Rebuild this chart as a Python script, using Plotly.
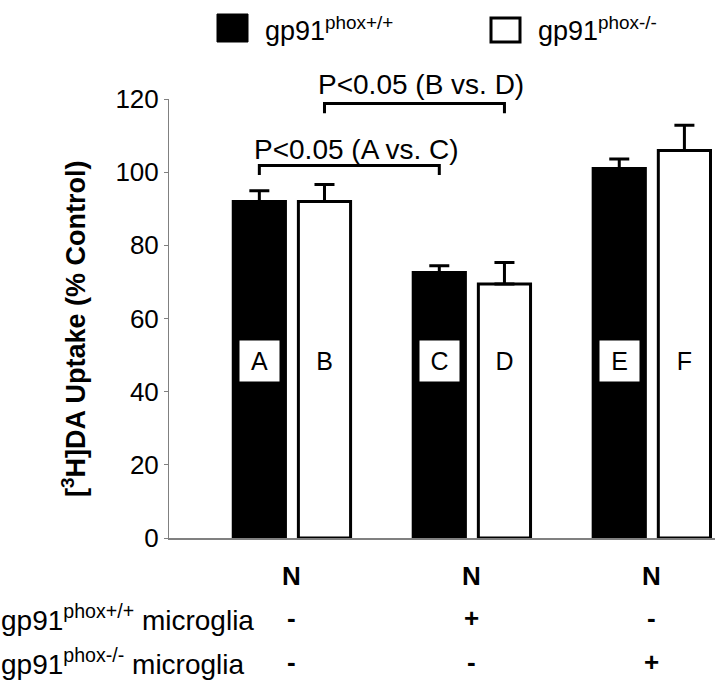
import plotly.graph_objects as go

# ---- data ----
categories = [0, 1, 2]
wt_values = [92, 72.6, 101]          # gp91phox+/+ (black)
wt_errors = [2.9, 1.8, 2.6]
ko_values = [92, 69.4, 105.9]        # gp91phox-/- (white)
ko_errors = [4.6, 5.9, 6.9]
wt_letters = ["A", "C", "E"]
ko_letters = ["B", "D", "F"]
series_names = ["gp91<sup>phox+/+</sup>", "gp91<sup>phox-/-</sup>"]
y_ticks = [0, 20, 40, 60, 80, 100, 120]
row_labels = ["", "gp91<sup>phox+/+</sup> microglia", "gp91<sup>phox-/-</sup> microglia"]
row_marks = [["N", "N", "N"], ["-", "+", "-"], ["-", "-", "+"]]
# significance brackets: (left category, left series, right category, right series, line level, drop level, text, text level)
brackets = [
    (0, 0, 1, 0, 101.8, 99.2, "P<0.05 (A vs. C)", 106.3),
    (0, 1, 1, 1, 118.8, 116.1, "P<0.05 (B vs. D)", 124.1),
]
letter_level = 48.4
Y_MAX = 120

# ---- layout constants ----
W, H = 720, 680
PL, PR, PT, PB = 169, 715, 99, 538
FONT = "Liberation Sans, Arial, sans-serif"
BARGAP = 0.276
BARGROUPGAP = 0.199
slot = (1 - BARGAP) / 2
offs = [-slot / 2, slot / 2]


def pxx(px):
    return (px - PL) / (PR - PL)


def pxy(py):
    return (PB - py) / (PB - PT)


fig = go.Figure()
fig.add_trace(go.Bar(
    x=categories, y=wt_values, name=series_names[0], showlegend=False,
    marker=dict(color="black", line=dict(color="black", width=3)),
    error_y=dict(type="data", array=wt_errors, arrayminus=[0] * len(wt_errors),
                 symmetric=False, color="black", thickness=3, width=10),
))
fig.add_trace(go.Bar(
    x=categories, y=ko_values, name=series_names[1], showlegend=False,
    marker=dict(color="white", line=dict(color="black", width=3)),
    error_y=dict(type="data", array=ko_errors, arrayminus=[0] * len(ko_errors),
                 symmetric=False, color="black", thickness=3, width=10),
))

annotations = []
shapes = []

# letters inside bars
for i, c in enumerate(categories):
    for s, letters in enumerate([wt_letters, ko_letters]):
        annotations.append(dict(
            x=c + offs[s], y=letter_level, xref="x", yref="y", text=letters[i],
            showarrow=False, bgcolor="white", width=37, height=38,
            font=dict(family=FONT, size=25, color="black"),
            xanchor="center", yanchor="middle",
        ))

# significance brackets
for (c1, s1, c2, s2, lvl, drop, txt, tlvl) in brackets:
    x1 = categories[c1] + offs[s1]
    x2 = categories[c2] + offs[s2]
    shapes.append(dict(
        type="path", xref="x", yref="y",
        path=f"M {x1},{drop} L {x1},{lvl} L {x2},{lvl} L {x2},{drop}",
        line=dict(color="black", width=3),
    ))
    annotations.append(dict(
        x=(x1 + x2) / 2, y=tlvl / Y_MAX, xref="x", yref="paper", text=txt,
        showarrow=False, xshift=7, font=dict(family=FONT, size=28, color="black"),
        xanchor="center", yanchor="middle",
    ))

# legend (drawn manually for large swatches)
shapes.append(dict(type="rect", xref="paper", yref="paper",
                   x0=pxx(217), x1=pxx(248), y0=pxy(42), y1=pxy(14),
                   fillcolor="black", line=dict(color="black", width=1)))
shapes.append(dict(type="rect", xref="paper", yref="paper",
                   x0=pxx(491), x1=pxx(520), y0=pxy(42), y1=pxy(18),
                   fillcolor="white", line=dict(color="black", width=3)))
for name, lx in zip(series_names, [263, 536]):
    annotations.append(dict(
        x=pxx(lx), y=pxy(29), xref="paper", yref="paper", text=name,
        showarrow=False, xanchor="left", yanchor="middle",
        font=dict(family=FONT, size=27, color="black"),
    ))

# condition rows below the axis
row_y = [576, 618, 662]
for r, (lab, marks) in enumerate(zip(row_labels, row_marks)):
    if lab:
        annotations.append(dict(
            x=pxx(-1), y=pxy(row_y[r]), xref="paper", yref="paper", text=lab,
            showarrow=False, xanchor="left", yanchor="middle",
            font=dict(family=FONT, size=28, color="black"),
        ))
    for c, m in zip(categories, marks):
        annotations.append(dict(
            x=c, y=pxy(row_y[r]), xref="x", yref="paper", text=f"<b>{m}</b>",
            showarrow=False, xanchor="center", yanchor="middle",
            font=dict(family=FONT, size=26, color="black"),
        ))

# y-axis title
annotations.append(dict(
    x=pxx(74), y=pxy(329), xref="paper", yref="paper",
    text="<b>[<sup>3</sup>H]DA Uptake (% Control)</b>", textangle=-90,
    showarrow=False, xanchor="center", yanchor="middle",
    font=dict(family=FONT, size=27, color="black"),
))

fig.update_layout(
    width=W, height=H,
    margin=dict(l=PL, r=W - PR, t=PT, b=H - PB, pad=0),
    paper_bgcolor="white", plot_bgcolor="white",
    barmode="group", bargap=BARGAP, bargroupgap=BARGROUPGAP,
    showlegend=False,
    font=dict(family=FONT, color="black"),
    xaxis=dict(range=[-0.683, 2.351], showline=True, linecolor="#808080", linewidth=2,
               showticklabels=False, ticks="", showgrid=False, zeroline=False, fixedrange=True),
    yaxis=dict(range=[0, Y_MAX], tickvals=y_ticks, showline=True, linecolor="#808080",
               linewidth=1, ticks="outside", ticklen=4, tickcolor="#808080",
               showgrid=False, zeroline=False,
               tickfont=dict(family=FONT, size=26, color="black")),
    annotations=annotations, shapes=shapes,
)

fig.write_html("out.html", config={"displayModeBar": False},
               post_script="document.body.style.margin='0';document.body.style.overflow='hidden';")
